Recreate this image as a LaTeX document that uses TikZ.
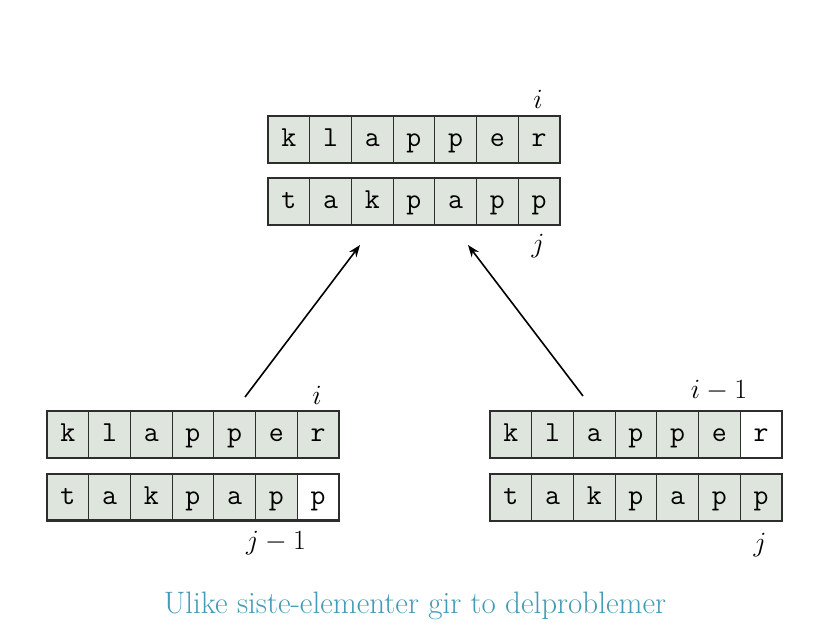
\documentclass[tikz,border=0pt]{standalone}
\usepackage{fontspec}
\usetikzlibrary{arrows.meta}
\definecolor{cellfill}{RGB}{222,229,220}
\definecolor{cellline}{RGB}{45,45,45}
\definecolor{captioncol}{RGB}{68,155,182}
\tikzset{
  cell/.style={rectangle, draw=cellline, line width=0.8pt, fill=cellfill,
    minimum width=41.7pt, minimum height=46pt, inner sep=0pt,
    text height=20pt, text depth=6pt,
    font=\ttfamily\fontsize{29}{29}\selectfont},
  blank/.style={cell, fill=white},
  border/.style={draw=cellline, line width=2.2pt},
  idx/.style={inner sep=0pt, scale=1.12, font=\fontsize{24.88}{25}\selectfont},
  link/.style={line width=1.6pt, -{Stealth[length=12pt,width=9pt]}},
  caption/.style={text=captioncol, font=\fontsize{31}{36}\selectfont}
}
\begin{document}
\begin{tikzpicture}[x=1pt,y=-1pt]
\useasboundingbox (0,0) rectangle (826,643);
% top arrays
\foreach \ch [count=\k] in {k,l,a,p,p,e,r}
  \node[cell] (A\k) at (268+\k*41.7-20.85,139.5) {\ch};
\foreach \ch [count=\k] in {t,a,k,p,a,p,p}
  \node[cell] (B\k) at (268+\k*41.7-20.85,201.5) {\ch};
\draw[border] (A1.north west) rectangle (A7.south east);
\draw[border] (B1.north west) rectangle (B7.south east);
\node[idx] (Ai) at (538,99) {$i$};
\node[idx] (Bj) at (538,246) {$j$};
% bottom-left arrays
\foreach \ch [count=\k] in {k,l,a,p,p,e,r}
  \node[cell] (C\k) at (47+\k*41.7-20.85,434.5) {\ch};
\foreach \ch [count=\k] in {t,a,k,p,a,p}
  \node[cell] (D\k) at (47+\k*41.7-20.85,497) {\ch};
\node[blank] (D7) at (47+7*41.7-20.85,497) {p};
\draw[border] (C1.north west) rectangle (C7.south east);
\draw[border] (D1.north west) rectangle (D7.south east);
\node[idx] (Ci) at (317,395) {$i$};
\node[idx] (Dj) at (276,543) {$j-1$};
% bottom-right arrays
\foreach \ch [count=\k] in {k,l,a,p,p,e}
  \node[cell] (E\k) at (490+\k*41.7-20.85,434.5) {\ch};
\node[blank] (E7) at (490+7*41.7-20.85,434.5) {r};
\foreach \ch [count=\k] in {t,a,k,p,a,p,p}
  \node[cell] (F\k) at (490+\k*41.7-20.85,497.5) {\ch};
\draw[border] (E1.north west) rectangle (E7.south east);
\draw[border] (F1.north west) rectangle (F7.south east);
\node[idx] (Ei) at (719,391) {$i-1$};
\node[idx] (Fj) at (760,545) {$j$};
% arrows
\coordinate (Ls) at (245,397);
\coordinate (Le) at (360,245);
\coordinate (Rs) at (583,396);
\coordinate (Re) at (468,245);
\draw[link] (Ls) -- (Le);
\draw[link] (Rs) -- (Re);
% caption
\node[caption] (cap) at (415,606) {Ulike siste-elementer gir to delproblemer};
\end{tikzpicture}
\end{document}
